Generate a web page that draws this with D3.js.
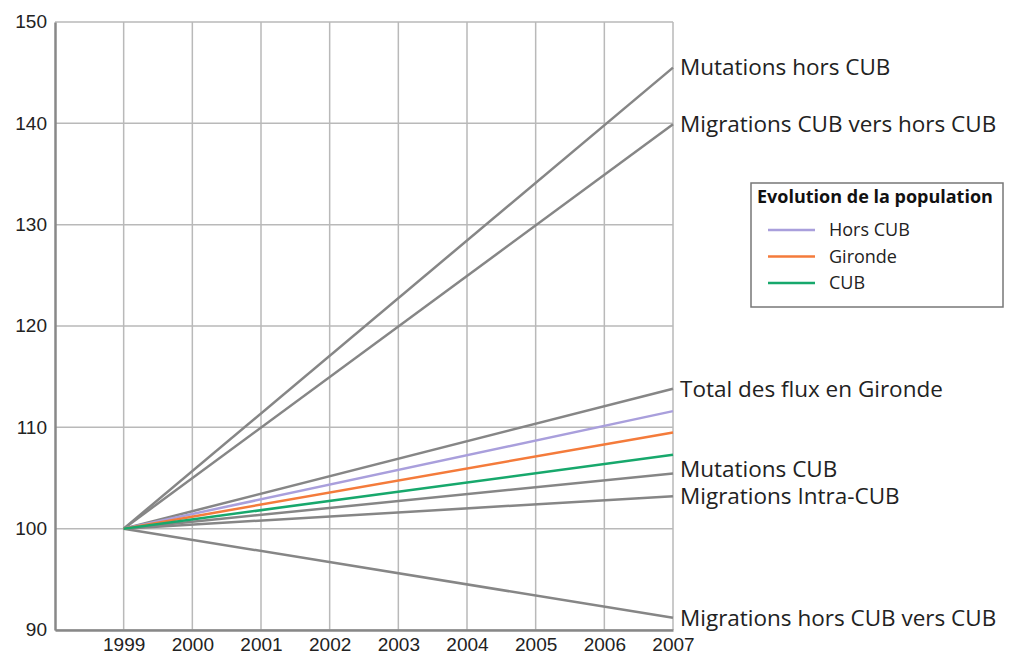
<!DOCTYPE html>
<html>
<head>
<meta charset="utf-8">
<script src="https://cdn.jsdelivr.net/npm/d3@7"></script>
<style>
  body { margin: 0; background: #fff; }
  svg { font-family: "Open Sans", "Noto Sans", sans-serif; }
  .tick text { fill: #222; font-size: 19px; }
  .flux-label { fill: #222; font-size: 22.5px; }
  .legend-title { font-size: 18px; font-weight: bold; fill: #111; }
  .legend-item { font-size: 18px; fill: #222; }
</style>
</head>
<body>
<svg width="1014" height="655"></svg>
<script>
const years = [1999, 2000, 2001, 2002, 2003, 2004, 2005, 2006, 2007];
const yTicks = [90, 100, 110, 120, 130, 140, 150];

// gray flux lines: index 1999 -> 2007
const fluxNames = [
  'Mutations hors CUB',
  'Migrations CUB vers hors CUB',
  'Total des flux en Gironde',
  'Mutations CUB',
  'Migrations Intra-CUB',
  'Migrations hors CUB vers CUB'
];
const fluxStart = [100, 100, 100, 100, 100, 100];
const fluxEnd = [145.5, 139.9, 113.8, 105.45, 103.2, 91.2];

// coloured population lines
const popNames = ['Hors CUB', 'Gironde', 'CUB'];
const popStart = [100, 100, 100];
const popEnd = [111.6, 109.5, 107.3];
const popColors = ['#a99fdc', '#f47b3b', '#17a86c'];

const svg = d3.select('svg');

const margin = { top: 22, right: 341, bottom: 25, left: 55 };
const width = +svg.attr('width');
const height = +svg.attr('height');

const xScale = d3.scaleLinear()
    .domain([1998, 2007])
    .range([margin.left, width - margin.right]);

const yScale = d3.scaleLinear()
    .domain([90, 150])
    .range([height - margin.bottom, margin.top]);

// grid
const grid = svg.append('g');
grid.selectAll('.hgrid').data(yTicks).enter().append('line')
    .attr('x1', xScale(1998))
    .attr('x2', xScale(2007))
    .attr('y1', d => yScale(d))
    .attr('y2', d => yScale(d))
    .attr('stroke', '#b9b9b9')
    .attr('stroke-width', 1.5);
grid.selectAll('.vgrid').data(years).enter().append('line')
    .attr('x1', d => xScale(d))
    .attr('x2', d => xScale(d))
    .attr('y1', yScale(150))
    .attr('y2', yScale(90))
    .attr('stroke', '#b9b9b9')
    .attr('stroke-width', 1.5);

// axes
const yAxis = d3.axisLeft(yScale).tickValues(yTicks).tickSize(0).tickPadding(8);
const yAxisG = svg.append('g')
    .attr('transform', `translate(${margin.left},0)`)
    .call(yAxis);
yAxisG.select('.domain').attr('stroke', '#888').attr('stroke-width', 2.5);
yAxisG.selectAll('.tick text').attr('dy', '0.3em');

const xAxis = d3.axisBottom(xScale).tickValues(years).tickFormat(d3.format('d')).tickSize(0).tickPadding(5);
const xAxisG = svg.append('g')
    .attr('transform', `translate(0,${yScale(90)})`)
    .call(xAxis);
xAxisG.select('.domain').attr('stroke', '#888').attr('stroke-width', 2.5);
xAxisG.selectAll('.tick text').attr('dy', '0.85em');

const line = d3.line()
    .x(d => xScale(d[0]))
    .y(d => yScale(d[1]));

// flux lines
svg.append('g').selectAll('path')
    .data(fluxNames.map((n, i) => [[1999, fluxStart[i]], [2007, fluxEnd[i]]]))
    .enter().append('path')
    .attr('d', line)
    .attr('fill', 'none')
    .attr('stroke', '#868686')
    .attr('stroke-width', 2.5);

// population lines
svg.append('g').selectAll('path')
    .data(popNames.map((n, i) => [[1999, popStart[i]], [2007, popEnd[i]]]))
    .enter().append('path')
    .attr('d', line)
    .attr('fill', 'none')
    .attr('stroke', (d, i) => popColors[i])
    .attr('stroke-width', 2.5);

// flux labels
svg.append('g').selectAll('text')
    .data(fluxNames)
    .enter().append('text')
    .attr('class', 'flux-label')
    .attr('x', xScale(2007) + 7)
    .attr('y', (d, i) => yScale(fluxEnd[i]) + (d === 'Mutations CUB' ? -4 : 0))
    .attr('dy', '0.35em')
    .text(d => d);

// legend
const legend = svg.append('g').attr('transform', 'translate(751,183)');
legend.append('rect')
    .attr('width', 252)
    .attr('height', 124)
    .attr('fill', '#fff')
    .attr('stroke', '#777')
    .attr('stroke-width', 1.5);
legend.append('text')
    .attr('class', 'legend-title')
    .attr('x', 6)
    .attr('y', 20)
    .text('Evolution de la population');
const items = legend.selectAll('.item').data(popNames).enter().append('g')
    .attr('transform', (d, i) => `translate(0,${47 + i * 26.5})`);
items.append('line')
    .attr('x1', 17).attr('x2', 64)
    .attr('stroke', (d, i) => popColors[i])
    .attr('stroke-width', 2.5);
items.append('text')
    .attr('class', 'legend-item')
    .attr('x', 78)
    .attr('dy', '0.35em')
    .text(d => d);
</script>
</body>
</html>
